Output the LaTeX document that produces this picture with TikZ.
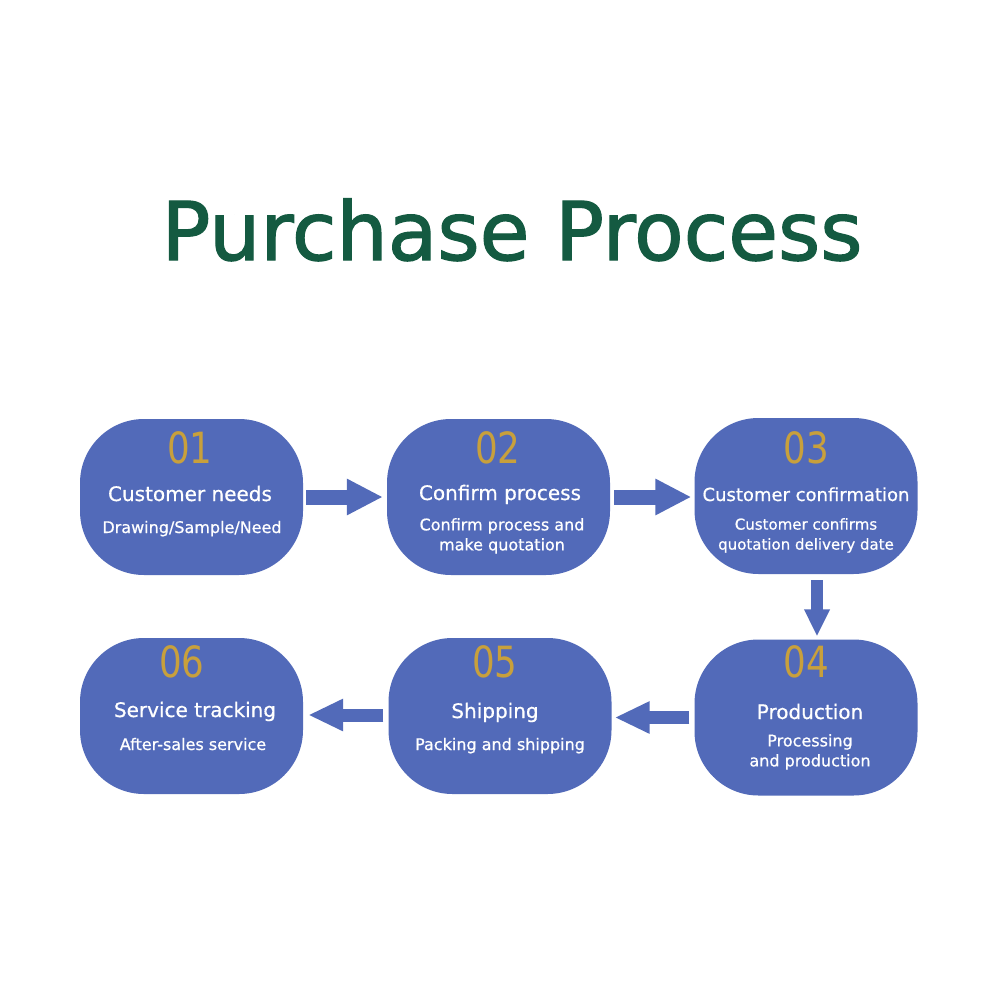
\documentclass[tikz,border=0pt]{standalone}
\usepackage{fontspec}
\usepackage{graphicx}
\setmainfont{DejaVu Sans}
\newfontfamily\semib{DejaVu Sans}[FakeBold=0.7]
\newfontfamily\titlefont{DejaVu Sans}[FakeBold=1.6]
\usetikzlibrary{arrows.meta}
\definecolor{boxblue}{RGB}{82,106,185}
\definecolor{titlegreen}{RGB}{20,90,65}
\definecolor{numgold}{RGB}{200,160,60}
\tikzset{
  x=1pt, y=-1pt,
  box/.style={fill=boxblue, draw=none, minimum width=223pt, minimum height=156pt, rounded corners=64pt, inner sep=0pt},
  num/.style={anchor=base, text=numgold, font=\fontsize{43}{43}\selectfont, inner sep=0pt},
  head/.style={anchor=base, text=white, font=\semib\fontsize{20}{20}\selectfont, inner sep=0pt},
  sub/.style={anchor=base, text=white, font=\semib\fontsize{16}{20}\selectfont, inner sep=0pt, align=center},
  hblock/.style={draw=boxblue, line width=15pt, -{Triangle[width=34pt,length=36pt]}},
  hblockb/.style={draw=boxblue, line width=13pt, -{Triangle[width=30pt,length=35pt]}},
  vblock/.style={draw=boxblue, line width=12pt, -{Triangle[width=24pt,length=27pt]}}
}
\newcommand{\numtxt}[1]{\scalebox{0.83}[1]{#1}}
\begin{document}
\begin{tikzpicture}
\fill[white] (0,0) rectangle (1000,1000);
\useasboundingbox (0,0) rectangle (1000,1000);

\node[anchor=base, text=titlegreen, font=\titlefont\fontsize{81}{81}\selectfont, inner sep=0pt] (title) at (512,260) {Purchase Process};

% boxes
\node[box] (b1) at (191.5,497) {};
\node[box] (b2) at (498.5,497) {};
\node[box] (b3) at (806,496) {};
\node[box] (b4) at (806,717.5) {};
\node[box] (b5) at (500,716) {};
\node[box] (b6) at (191.5,716) {};

% box 1
\node[num] (n1) at (190,463) {\numtxt{01}};
\node[head] (h1) at (190,501) {Customer needs};
\node[sub] (s1) at (192,533) {Drawing/Sample/Need};
% box 2
\node[num] (n2) at (498,463) {\numtxt{02}};
\node[head] (h2) at (500,500) {Confirm process};
\node[sub, anchor=north] (s2) at (502,518) {Confirm process and\\make quotation};
% box 3
\node[num] (n3) at (806,463) {\numtxt{03}};
\node[head, font=\semib\fontsize{18}{18}\selectfont] (h3) at (806,501) {Customer confirmation};
\node[sub, anchor=north, font=\semib\fontsize{15}{20}\selectfont] (s3) at (806,518) {Customer confirms\\quotation delivery date};
% box 4
\node[num] (n4) at (806,677) {\numtxt{04}};
\node[head] (h4) at (810,719) {Production};
\node[sub, anchor=north] (s4) at (810,734) {Processing\\and production};
% box 5
\node[num] (n5) at (495,677) {\numtxt{05}};
\node[head] (h5) at (495,718) {Shipping};
\node[sub] (s5) at (500,750) {Packing and shipping};
% box 6
\node[num] (n6) at (182,677) {\numtxt{06}};
\node[head] (h6) at (195,717) {Service tracking};
\node[sub] (s6) at (193,750) {After-sales service};

% arrows
\draw[hblock, shorten <=3pt, shorten >=4pt] (b1.east) -- (b2.west);
\draw[hblock, shorten <=4pt, shorten >=3pt] (b2.east) -- (b2.east -| b3.west);
\draw[vblock, shorten <=6pt, shorten >=3pt] ([xshift=11pt]b3.south) -- ([xshift=11pt]b4.north);
\draw[hblockb, shorten <=5pt, shorten >=3pt] (b4.west) -- (b4.west -| b5.east);
\draw[hblockb, shorten <=5pt, shorten >=5pt] ([yshift=1pt]b5.west) -- ([yshift=1pt]b5.west -| b6.east);
\end{tikzpicture}
\end{document}
